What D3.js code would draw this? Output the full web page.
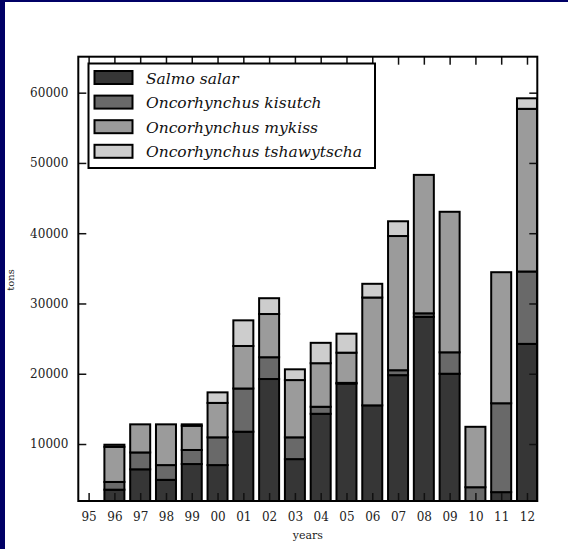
<!DOCTYPE html>
<html>
<head>
<meta charset="utf-8">
<script src="https://cdn.jsdelivr.net/npm/d3@7"></script>
<style>
  html, body { margin: 0; padding: 0; background: #fff; }
  svg { display: block; }
</style>
</head>
<body>
<script>
// Salmon farming harvest by species, tons per year
const years = ["95","96","97","98","99","00","01","02","03","04","05","06","07","08","09","10","11","12"];
const salmoSalar      = [0, 3500, 6400, 4900, 7150, 7000, 11750, 19250, 7850, 14300, 18600, 15500, 19800, 28100, 20000, 0, 3150, 24250];
const oKisutch        = [0, 1100, 2400, 2100, 2000, 3950, 6150, 3100, 3100, 1000, 100, 0, 700, 500, 3050, 3850, 12650, 10300];
const oMykiss         = [0, 5000, 4000, 5800, 3450, 4900, 6050, 6150, 8150, 6200, 4300, 15350, 19100, 19700, 20000, 8600, 18650, 23150];
const oTshawytscha    = [0, 300, 0, 0, 200, 1500, 3650, 2250, 1530, 2900, 2700, 1950, 2100, 0, 0, 0, 0, 1500];
const speciesNames = ["Salmo salar", "Oncorhynchus kisutch", "Oncorhynchus mykiss", "Oncorhynchus tshawytscha"];
const speciesColors = ["#363636", "#696969", "#9b9b9b", "#cdcdcd"];
const yTicks = [10000, 20000, 30000, 40000, 50000, 60000];

const W = 568, H = 549;
const plot = { left: 78.3, right: 537.3, top: 56.7, bottom: 501 };

const svg = d3.select("body").append("svg").attr("width", W).attr("height", H);
svg.append("rect").attr("width", W).attr("height", H).attr("fill", "#fff");
// navy page edge
svg.append("rect").attr("x", 0).attr("y", 0).attr("width", 5).attr("height", H).attr("fill", "#000066");
svg.append("rect").attr("x", 0).attr("y", 0).attr("width", W).attr("height", 2).attr("fill", "#000066");

const x = d3.scalePoint().domain(years).range([plot.left, plot.right]).padding(0.4);
const y = d3.scaleLinear().domain([1890, 65120]).range([plot.bottom, plot.top]);
const barW = 20;

const table = years.map((yr, i) => ({
  year: yr,
  s0: salmoSalar[i], s1: oKisutch[i], s2: oMykiss[i], s3: oTshawytscha[i]
}));
const stack = d3.stack().keys(["s0", "s1", "s2", "s3"])(table);

svg.append("clipPath").attr("id", "plotClip")
  .append("rect")
  .attr("x", plot.left).attr("y", plot.top)
  .attr("width", plot.right - plot.left).attr("height", plot.bottom - plot.top);

const bars = svg.append("g").attr("clip-path", "url(#plotClip)");
stack.forEach((layer, k) => {
  bars.append("g")
    .selectAll("rect")
    .data(layer.filter(d => d[1] - d[0] > 0))
    .join("rect")
    .attr("x", d => x(d.data.year) - barW / 2)
    .attr("width", barW)
    .attr("y", d => y(d[1]))
    .attr("height", d => y(d[0]) - y(d[1]))
    .attr("fill", speciesColors[k])
    .attr("stroke", "#000")
    .attr("stroke-width", 2);
});

// inward ticks on all four sides
const tickLen = 8;
const fontTick = "DejaVu Serif, serif";

const gl = svg.append("g").attr("transform", `translate(${plot.left},0)`)
  .call(d3.axisLeft(y).tickValues(yTicks).tickSizeInner(-tickLen).tickSizeOuter(0).tickPadding(10).tickFormat(d3.format("d")));
const gr = svg.append("g").attr("transform", `translate(${plot.right},0)`)
  .call(d3.axisRight(y).tickValues(yTicks).tickSizeInner(-tickLen).tickSizeOuter(0).tickFormat(""));
const gb = svg.append("g").attr("transform", `translate(0,${plot.bottom})`)
  .call(d3.axisBottom(x).tickSizeInner(-tickLen).tickSizeOuter(0).tickPadding(11));
const gt = svg.append("g").attr("transform", `translate(0,${plot.top})`)
  .call(d3.axisTop(x).tickSizeInner(-tickLen).tickSizeOuter(0).tickFormat(""));

[gl, gr, gb, gt].forEach(g => {
  g.select(".domain").remove();
  g.selectAll(".tick line").attr("stroke", "#111").attr("stroke-width", 1.5);
  g.selectAll(".tick text").attr("fill", "#222").attr("font-family", fontTick).attr("font-size", 12);
});

// axes frame
svg.append("rect")
  .attr("x", plot.left).attr("y", plot.top)
  .attr("width", plot.right - plot.left).attr("height", plot.bottom - plot.top)
  .attr("fill", "none").attr("stroke", "#000").attr("stroke-width", 2);

// axis titles
svg.append("text")
  .attr("x", (plot.left + plot.right) / 2).attr("y", 539)
  .attr("text-anchor", "middle")
  .attr("font-family", fontTick).attr("font-size", 11)
  .attr("fill", "#222")
  .text("years");
svg.append("text")
  .attr("transform", `translate(14,280) rotate(-90)`)
  .attr("text-anchor", "middle")
  .attr("font-family", fontTick).attr("font-size", 10)
  .attr("fill", "#222")
  .text("tons");

// legend
const lg = svg.append("g");
lg.append("rect")
  .attr("x", 88.5).attr("y", 63.5).attr("width", 286.5).attr("height", 104.5)
  .attr("fill", "#fff").attr("stroke", "#000").attr("stroke-width", 2);
speciesNames.forEach((name, i) => {
  const cy = 77.5 + i * 24.6;
  lg.append("rect")
    .attr("x", 94.5).attr("y", cy - 6.5).attr("width", 38).attr("height", 13)
    .attr("fill", speciesColors[i]).attr("stroke", "#000").attr("stroke-width", 2);
  lg.append("text")
    .attr("x", 146).attr("y", cy + 6)
    .attr("font-family", "DejaVu Serif, serif").attr("font-style", "italic")
    .attr("font-size", 15.5).attr("fill", "#111")
    .text(name);
});
</script>
</body>
</html>
